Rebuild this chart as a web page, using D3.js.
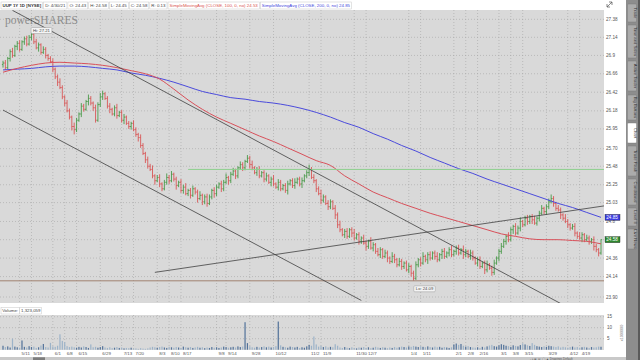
<!DOCTYPE html>
<html><head><meta charset="utf-8">
<script src="https://cdn.jsdelivr.net/npm/d3@7"></script>
<style>
html,body{margin:0;padding:0;background:#fff;overflow:hidden}
svg{display:block;font-family:"Liberation Sans",Arial,sans-serif}
</style></head><body>
<svg id="c" width="640" height="360"></svg>
<script>
// ---------------- data ----------------
const firstOpen = 26.78;
const closes = [
26.80,26.74,26.86,26.95,26.90,27.02,27.06,26.98,27.08,27.12,
27.05,27.14,27.18,27.08,27.00,27.04,26.94,26.98,26.90,26.86,
26.82,26.72,26.62,26.55,26.48,26.36,26.28,26.18,26.10,25.98,
25.94,26.06,26.14,26.24,26.20,26.30,26.34,26.28,26.22,26.06,
26.26,26.36,26.40,26.34,26.24,26.20,26.14,26.22,26.12,26.16,
26.06,26.10,26.02,25.98,26.02,25.94,25.88,25.84,25.74,25.64,
25.56,25.48,25.44,25.36,25.30,25.34,25.26,25.20,25.28,25.34,
25.30,25.38,25.32,25.24,25.28,25.18,25.22,25.14,25.18,25.12,
25.20,25.16,25.08,25.12,25.04,25.10,25.02,25.10,25.18,25.14,
25.22,25.26,25.20,25.28,25.34,25.30,25.38,25.42,25.36,25.46,
25.50,25.46,25.54,25.58,25.50,25.46,25.40,25.44,25.36,25.40,
25.32,25.36,25.28,25.32,25.26,25.22,25.28,25.20,25.24,25.18,
25.26,25.30,25.24,25.28,25.32,25.26,25.30,25.36,25.40,25.44,
25.34,25.30,25.20,25.14,25.06,25.10,25.02,24.98,25.04,24.96,
24.88,24.76,24.70,24.64,24.68,24.62,24.70,24.66,24.60,24.64,
24.56,24.60,24.54,24.50,24.56,24.48,24.52,24.44,24.40,24.46,
24.38,24.42,24.36,24.32,24.38,24.34,24.28,24.32,24.26,24.30,
24.22,24.26,24.18,24.12,24.28,24.34,24.30,24.38,24.34,24.40,
24.36,24.42,24.38,24.34,24.40,24.44,24.38,24.42,24.46,24.40,
24.44,24.48,24.42,24.46,24.40,24.44,24.38,24.42,24.36,24.30,
24.34,24.26,24.30,24.22,24.28,24.24,24.19,24.30,24.36,24.44,
24.50,24.56,24.62,24.58,24.70,24.74,24.66,24.72,24.80,24.76,
24.84,24.80,24.86,24.82,24.78,24.84,24.90,24.96,24.92,24.98,
25.04,25.08,25.02,24.96,24.94,24.88,24.84,24.80,24.76,24.72,
24.74,24.66,24.62,24.60,24.64,24.58,24.60,24.56,24.58,24.50,
24.46,24.42,24.58];
// wick beyond the bar body, in cents
const wickUp = [
3,4,2,3,5,2,3,4,2,3, 4,3,3,2,4,3,2,4,3,2, 3,4,2,3,5,3,2,4,3,2, 5,3,2,4,3,2,5,3,2,4,
3,5,4,2,3,4,2,3,5,2, 3,4,2,3,2,4,3,2,4,3, 2,4,3,5,2,3,4,2,3,5, 3,4,2,3,2,4,3,5,2,3,
4,2,3,5,2,3,4,3,2,4, 3,2,4,3,5,2,3,4,3,2, 4,3,2,4,3,5,2,3,4,2, 3,4,2,3,5,2,4,3,2,3,
4,2,3,5,2,3,4,2,3,6, 3,4,2,3,5,3,2,4,3,2, 4,3,5,2,3,4,2,3,5,2, 3,2,4,3,2,5,3,2,4,3,
2,4,3,2,5,3,2,4,3,2, 3,4,2,3,4,2,3,5,2,3, 4,2,3,5,2,3,4,2,3,5, 2,3,4,2,5,3,2,4,3,2,
3,4,2,3,5,2,3,4,2,3, 4,3,2,5,3,2,4,3,5,2, 3,4,2,3,5,2,3,4,2,3, 4,5,3,2,4,3,2,5,3,2,
3,4,2,5,3,2,4,3,2,4, 3,2,0];
const wickDn = [
4,3,2,4,3,2,5,3,2,4, 3,2,4,3,2,5,3,2,4,3, 2,4,3,5,2,3,4,2,3,5, 6,3,2,4,3,2,5,3,4,3,
2,3,4,2,3,5,2,3,4,2, 3,5,2,3,4,2,3,5,3,2, 4,3,2,3,5,2,4,3,2,3, 4,2,3,5,2,3,4,2,3,4,
2,3,5,2,4,3,4,2,3,5, 3,2,4,3,2,5,3,2,4,3, 2,4,3,2,5,3,2,4,3,2, 4,3,2,5,3,2,4,3,2,3,
5,2,3,4,2,3,5,2,3,4, 2,3,4,2,5,3,2,4,3,2, 5,4,3,2,4,3,2,5,3,2, 4,3,2,5,3,2,4,3,2,4,
3,2,5,3,2,4,3,2,4,3, 2,4,4,3,2,3,4,2,3,5, 3,2,4,3,2,5,3,2,4,3, 2,4,3,2,5,3,2,4,3,2,
4,3,2,5,3,2,4,3,2,4, 3,2,4,3,2,5,3,2,4,3, 2,4,3,5,2,3,4,2,3,4, 3,2,4,3,2,5,3,2,4,3,
2,4,3,2,5,3,2,4,3,5, 3,4,2];
// volume, millions of shares
const volumes = [
1.8,1.2,1.5,1.0,5.0,1.4,1.1,0.9,4.2,1.3, 1.0,1.6,1.2,1.4,0.8,1.1,1.9,2.6,1.2,1.0,
3.1,1.5,1.3,1.8,7.0,4.0,3.4,1.6,1.2,1.4, 1.1,0.9,1.3,1.0,1.5,1.2,0.8,2.4,1.1,1.3,
0.9,1.2,1.6,1.0,0.8,1.1,0.7,0.9,1.2,0.8, 1.0,0.6,0.8,0.7,0.9,0.5,0.6,0.4,0.7,0.5,
0.4,0.6,1.0,1.3,1.1,0.9,1.2,1.4,1.0,0.8, 1.3,1.1,0.9,1.2,1.0,0.8,1.4,1.1,0.9,1.2,
0.8,1.0,1.3,0.9,1.1,0.7,1.0,0.8,1.2,0.9, 1.1,0.8,1.0,1.4,1.2,0.9,1.1,1.3,1.0,1.5,
1.2,1.4,12.5,3.0,1.6,1.1,0.9,1.3,1.0,1.2, 1.5,1.1,1.4,1.0,1.2,1.6,12.8,2.0,1.3,1.1,
0.9,1.4,1.2,1.0,1.3,0.8,1.1,0.9,1.5,2.2, 1.8,6.0,2.4,1.4,1.8,1.2,1.5,1.0,1.3,1.1,
2.5,1.8,1.0,0.8,1.2,0.9,0.7,1.1,0.8,0.6, 1.0,0.9,1.2,0.8,1.1,0.7,0.9,1.3,1.0,0.8,
1.1,0.9,0.7,1.0,0.8,1.2,0.9,1.1,1.4,1.2, 1.0,1.5,1.3,1.7,1.4,1.2,1.6,1.3,1.1,1.5,
1.2,1.0,1.4,1.1,1.3,0.9,1.2,1.0,0.8,1.1, 2.4,2.8,2.2,2.6,1.8,1.4,1.6,1.2,1.0,0.9,
1.1,0.8,1.3,1.0,1.5,1.9,2.2,1.6,1.4,2.0, 2.5,2.2,1.8,1.6,1.3,2.0,1.7,1.5,2.1,2.9,
2.4,2.0,1.7,3.0,2.2,1.6,1.4,1.2,1.5,1.3, 1.8,1.6,1.4,1.2,1.5,1.0,1.3,1.1,0.9,1.2,
1.4,1.0,1.2,0.9,1.1,1.3,1.0,0.8,1.2,1.0, 1.1,1.4,1.323059];
// moving averages, one value every 6th bar (bar 0, 6, 12 ... 252)
const smaEvery = 6;
const sma100 = [26.68,26.73,26.77,26.80,26.81,26.80,26.79,26.77,26.74,26.70,26.66,26.59,26.46,26.32,26.20,26.10,26.02,25.94,25.86,25.79,25.71,25.63,25.55,25.49,25.36,25.26,25.16,25.09,25.02,24.96,24.90,24.85,24.80,24.75,24.70,24.65,24.62,24.59,24.58,24.58,24.57,24.56,24.53];
const sma200 = [26.71,26.72,26.73,26.75,26.76,26.76,26.75,26.73,26.71,26.67,26.64,26.60,26.55,26.49,26.43,26.39,26.35,26.33,26.30,26.28,26.25,26.21,26.16,26.10,26.03,25.97,25.89,25.82,25.74,25.67,25.59,25.52,25.45,25.39,25.32,25.26,25.20,25.14,25.08,25.02,24.97,24.91,24.85];
// time axis
const dateLabels = ["5/11","5/18","6/1","6/8","6/15","6/29","7/13","7/20","8/3","8/10","8/17","9/8","9/14","9/28","10/12","11/2","11/9","11/30","12/7","1/4","1/11","2/1","2/8","2/16","3/1","3/8","3/15","3/29","4/12","4/19"];
const dateBars   = [7,12,21,26,31,41,50,55,65,70,75,90,94,104,114,129,134,148,153,171,176,190,195,200,209,214,219,229,238,243];
// price axis
const priceTicks = [27.38,27.14,26.9,26.66,26.42,26.18,25.95,25.70,25.48,25.25,25.03,24.8,24.58,24.36,24.14,23.90];
const priceTickText = ["27.38","27.14","26.9","26.66","26.42","26.18","25.95","25.70","25.48","25.25","25.03","24.8","24.58","24.36","24.14","23.90"];
const volTicks = [5,10,15];
// drawings: trend lines (bar, price) and horizontal levels
const trendLines = [
  {b1:4,  p1:27.50, b2:240,   p2:23.75},
  {b1:0,  p1:26.19, b2:151,   p2:23.86},
  {b1:64, p1:24.19, b2:253.3, p2:24.99}
];
const levels = [
  {price:25.44, fromBar:78, color:"#8fd08f"},
  {price:24.09, fromBar:-2, color:"#a08270"}
];
const header = [
  {t:"UUP 1Y 1D [NYSE]", c:"#333", b:true},
  {t:"D: 4/30/21", c:"#444"},
  {t:"O: 24.43", c:"#444"},
  {t:"H: 24.58", c:"#444"},
  {t:"L: 24.45", c:"#444"},
  {t:"C: 24.58", c:"#444"},
  {t:"R: 0.13", c:"#444"},
  {t:"SimpleMovingAvg (CLOSE, 100, 0, no)  24.53", c:"#d9534f"},
  {t:"SimpleMovingAvg (CLOSE, 200, 0, no)  24.85", c:"#4646dc"}
];
const tabNames = ["Trade","Time and Sales","Active Trader","Big Buttons","Chart","Trade Flash","Conditional","Level II","Live News"];

// ---------------- layout ----------------
const PX1 = 604, PY0 = 10, PY1 = 303, VY0 = 315, VY1 = 350;
const FS = 4.6;
const svg = d3.select("#c");
const x = d3.scaleLinear().domain([0, closes.length - 1]).range([3, 601]);
const y = d3.scaleLog().domain([23.90, 27.38]).range([297, 19.3]);
const yv = d3.scaleLinear().domain([0, 15]).range([349.7, 316.7]);
const UP = "#4a9a4a", DOWN = "#d85858";

svg.append("rect").attr("width", 640).attr("height", 360).attr("fill", "#fff");
const defs = svg.append("defs");
defs.append("clipPath").attr("id", "clipP").append("rect").attr("x", 0).attr("y", PY0).attr("width", PX1).attr("height", PY1 - PY0);
defs.append("clipPath").attr("id", "clipV").append("rect").attr("x", 0).attr("y", VY0).attr("width", PX1).attr("height", VY1 - VY0);

// panes
svg.append("rect").attr("x", 0).attr("y", PY0).attr("width", PX1).attr("height", PY1 - PY0).attr("fill", "#d9d9d9");
svg.append("rect").attr("x", 0).attr("y", VY0).attr("width", PX1).attr("height", VY1 - VY0).attr("fill", "#d9d9d9");

// grid
const grid = svg.append("g").attr("stroke", "#a4a4a4").attr("stroke-width", 0.6).attr("stroke-dasharray", "1,2");
grid.selectAll("line.h").data(priceTicks).join("line")
  .attr("x1", 0).attr("x2", PX1).attr("y1", d => y(d)).attr("y2", d => y(d));
grid.selectAll("line.hv").data(volTicks).join("line")
  .attr("x1", 0).attr("x2", PX1).attr("y1", d => yv(d)).attr("y2", d => yv(d));
grid.selectAll("line.v").data(dateBars).join("line")
  .attr("x1", d => x(d)).attr("x2", d => x(d)).attr("y1", PY0).attr("y2", PY1);
grid.selectAll("line.vv").data(dateBars).join("line")
  .attr("x1", d => x(d)).attr("x2", d => x(d)).attr("y1", VY0).attr("y2", VY1);

// watermark
svg.append("text").attr("x", 5).attr("y", 24).attr("font-family", "Liberation Serif, DejaVu Serif, serif")
  .attr("font-size", 12.5).attr("fill", "#8c8c8c").attr("textLength", 73).attr("lengthAdjust", "spacingAndGlyphs")
  .text("powerSHARES");

// bars
const bars = closes.map((c, i) => {
  const o = i ? closes[i - 1] : firstOpen;
  return {i, o, c, h: Math.max(o, c) + wickUp[i] / 100, l: Math.min(o, c) - wickDn[i] / 100, v: volumes[i]};
});
const gp = svg.append("g").attr("clip-path", "url(#clipP)");
gp.selectAll("path.bar").data(bars).join("path")
  .attr("d", d => { const cx = x(d.i); return `M${cx},${y(d.h)}V${y(d.l)}M${cx - 1.1},${y(d.o)}H${cx}M${cx},${y(d.c)}H${cx + 1.1}`; })
  .attr("fill", "none").attr("stroke-width", 0.9)
  .attr("stroke", d => d.c >= d.o ? UP : DOWN);

// moving averages
const smaLine = d3.line().x((d, k) => x(Math.min(k * smaEvery, closes.length - 1))).y(d => y(d)).curve(d3.curveMonotoneX);
gp.append("path").attr("d", smaLine(sma200)).attr("fill", "none").attr("stroke", "#4b4bdc").attr("stroke-width", 1);
gp.append("path").attr("d", smaLine(sma100)).attr("fill", "none").attr("stroke", "#d8505a").attr("stroke-width", 1);

// drawings
gp.selectAll("line.lvl").data(levels).join("line")
  .attr("x1", d => Math.max(0, x(d.fromBar))).attr("x2", PX1)
  .attr("y1", d => y(d.price)).attr("y2", d => y(d.price))
  .attr("stroke", d => d.color).attr("stroke-width", 1);
gp.selectAll("line.tl").data(trendLines).join("line")
  .attr("x1", d => x(d.b1)).attr("y1", d => y(d.p1)).attr("x2", d => x(d.b2)).attr("y2", d => y(d.p2))
  .attr("stroke", "#404040").attr("stroke-width", 0.8);

// hi / lo bubbles
const hiBar = bars.reduce((a, b) => b.h > a.h ? b : a);
const loBar = bars.reduce((a, b) => b.l < a.l ? b : a);
function bubble(cx, cy, txt) {
  const g = svg.append("g");
  const t = g.append("text").attr("x", cx).attr("y", cy + 1.5).attr("font-size", 4.2).attr("fill", "#444")
    .attr("text-anchor", "middle").text(txt);
  const w = t.node().getComputedTextLength() + 4;
  g.insert("rect", "text").attr("x", cx - w / 2).attr("y", cy - 3).attr("width", w).attr("height", 6)
    .attr("fill", "#f4f4f4").attr("stroke", "#9a9a9a").attr("stroke-width", 0.5).attr("rx", 1);
}
bubble(x(hiBar.i) + 10, y(hiBar.h) - 1.5, "Hi: " + hiBar.h.toFixed(2));
bubble(x(loBar.i) + 11, y(loBar.l) + 8, "Lo: " + loBar.l.toFixed(2));

// volume bars
const gv = svg.append("g").attr("clip-path", "url(#clipV)");
gv.selectAll("rect").data(bars).join("rect")
  .attr("x", d => x(d.i) - 0.6).attr("width", 1.2)
  .attr("y", d => yv(d.v)).attr("height", d => yv(0) - yv(d.v))
  .attr("fill", d => d.c >= d.o ? "#52729a" : "#9cb3c9");

// right axis
const ax = svg.append("g").attr("font-size", FS).attr("fill", "#555");
ax.selectAll("text.p").data(priceTicks).join("text")
  .attr("x", 606).attr("y", d => y(d) + 1.6).text((d, k) => priceTickText[k]);
ax.selectAll("text.v").data(volTicks).join("text")
  .attr("x", 607).attr("y", d => yv(d) + 1.6).text(d => d);
svg.append("text").attr("transform", "translate(623,333) rotate(-90)").attr("text-anchor", "middle")
  .attr("font-size", 3.8).attr("fill", "#777").text("x1000000");

function priceTag(p, bg) {
  const cy = y(p);
  svg.append("rect").attr("x", 605).attr("y", cy - 3).attr("width", 15).attr("height", 6).attr("fill", bg)
    .attr("stroke", "#222").attr("stroke-width", 0.4);
  svg.append("text").attr("x", 606.3).attr("y", cy + 1.6).attr("font-size", FS).attr("fill", "#fff").text(p.toFixed(2));
}
priceTag(sma200[sma200.length - 1], "#3c3ce0");
priceTag(closes[closes.length - 1], "#2f8a2f");

// date axis
svg.append("g").attr("font-size", 4.4).attr("fill", "#555").selectAll("text").data(dateBars).join("text")
  .attr("x", d => x(d) + 2).attr("y", 355).text((d, k) => dateLabels[k]);

// header
const hg = svg.append("g");
let hx = 1;
header.forEach(h => {
  const t = hg.append("text").attr("x", hx + 1.5).attr("y", 7.2).attr("font-size", 4.4).attr("fill", h.c)
    .attr("font-weight", h.b ? "bold" : "normal").text(h.t);
  const w = t.node().getComputedTextLength() + 3;
  hg.insert("rect", "text").attr("x", hx).attr("y", 2).attr("width", w).attr("height", 7)
    .attr("fill", "#fff").attr("stroke", "#c8c8c8").attr("stroke-width", 0.5);
  hx += w + 1;
});
svg.append("path").attr("d", "M607,7 L612,2 M609,2 H612 V5 M607,4 V7 H610").attr("fill", "none").attr("stroke", "#555").attr("stroke-width", 0.7);

// volume header
let vx = 1;
["Volume:", "1,323,059"].forEach(s => {
  const t = svg.append("text").attr("x", vx + 1.2).attr("y", 312.2).attr("font-size", 4.4).attr("fill", "#444").text(s);
  const w = t.node().getComputedTextLength() + 2.4;
  svg.insert("rect", "text").attr("x", vx).attr("y", 307.5).attr("width", w).attr("height", 6.5)
    .attr("fill", "#fff").attr("stroke", "#c8c8c8").attr("stroke-width", 0.5);
  vx += w + 0.5;
});

// bottom strip
svg.append("rect").attr("x", 0).attr("y", 357).attr("width", 626).attr("height", 3).attr("fill", "#c9c9c9");
svg.append("rect").attr("x", 33).attr("y", 357.3).attr("width", 12).attr("height", 2.7).attr("fill", "#7d7d7d");
svg.append("text").attr("x", 530).attr("y", 359.6).attr("font-size", 3.0).attr("fill", "#555").text("- + \u2295 \u2299 \u25EF \u25B2   Drawings  Default");

// side tab strip
svg.append("rect").attr("x", 626).attr("y", 0).attr("width", 14).attr("height", 360).attr("fill", "#8d8d8d");
svg.append("rect").attr("x", 638).attr("y", 0).attr("width", 2).attr("height", 360).attr("fill", "#5a5a5a");
const tabSpans = [[4,22],[25,58],[61,91],[95,120],[123,143],[146,176],[179,205],[208,226],[229,249]];
tabNames.forEach((n, k) => {
  const [a, b] = tabSpans[k];
  svg.append("rect").attr("x", 627.5).attr("y", a).attr("width", 9).attr("height", b - a).attr("rx", 1)
    .attr("fill", n === "Chart" ? "#ffffff" : "#ababab").attr("stroke", "#777").attr("stroke-width", 0.4);
  svg.append("text").attr("transform", `translate(633.5,${(a + b) / 2}) rotate(90)`).attr("text-anchor", "middle")
    .attr("font-size", 4.2).attr("fill", "#333").text(n);
});
</script>
</body></html>
